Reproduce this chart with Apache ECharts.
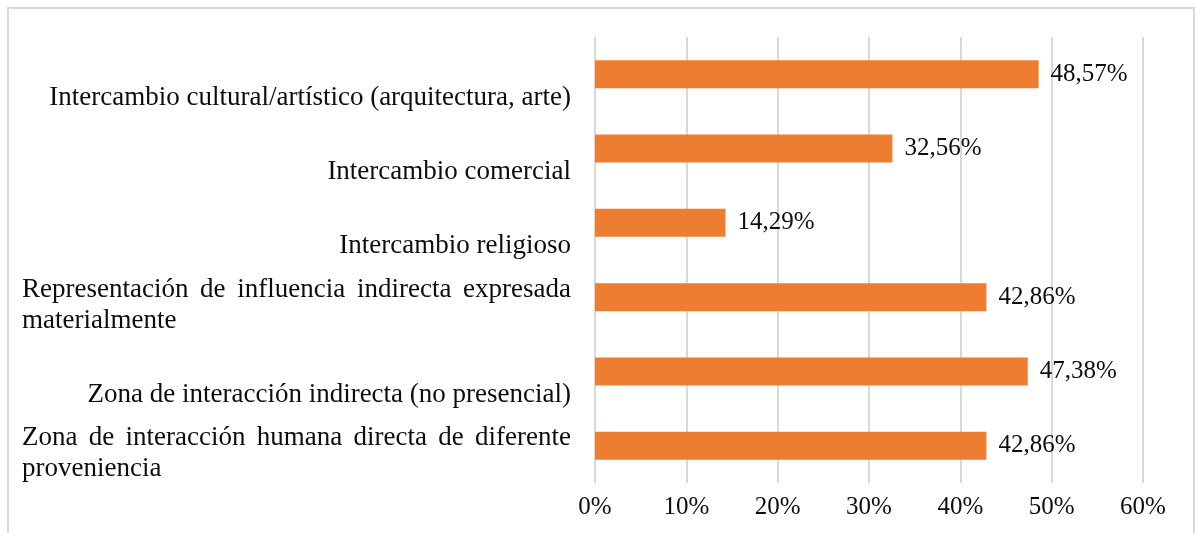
<!DOCTYPE html>
<html>
<head>
<meta charset="utf-8">
<script src="https://cdn.jsdelivr.net/npm/echarts@6/dist/echarts.min.js"></script>
<style>
  html, body { margin: 0; padding: 0; background: #fff; }
  #chart { width: 1196px; height: 533px; }
</style>
</head>
<body>
<div id="chart"></div>
<script>
// categorias (\n = salto de linea como en el original)
var categories = [
    'Intercambio cultural/artístico (arquitectura, arte)',
    'Intercambio comercial',
    'Intercambio religioso',
    'Representación de influencia indirecta expresada\nmaterialmente',
    'Zona de interacción indirecta (no presencial)',
    'Zona de interacción humana directa de diferente\nproveniencia'
];
var values = [48.57, 32.56, 14.29, 42.86, 47.38, 42.86];
var tickMin = 0, tickMax = 60, tickStep = 10;

var FONT = '"Liberation Serif", "Times New Roman", serif';
var labelSize = 27;
var blockWidth = 549; // ancho del texto justificado

// medir palabras para justificar la primera linea
var ctx = document.createElement('canvas').getContext('2d');
ctx.font = labelSize + 'px ' + FONT;

function justify(line) {
    var words = line.split(' ');
    var total = 0;
    for (var i = 0; i < words.length; i++) {
        total += ctx.measureText(words[i]).width;
    }
    var gap = (blockWidth - total) / (words.length - 1);
    var space = ctx.measureText(' ').width;
    if (gap < space) gap = space;
    return { words: words, gap: gap };
}

var rich = {
    w: { fontFamily: FONT, fontSize: labelSize, color: '#0d0d0d', align: 'left', lineHeight: 31 },
    l: { fontFamily: FONT, fontSize: labelSize, color: '#0d0d0d', align: 'left', lineHeight: 31 },
    r: { fontFamily: FONT, fontSize: labelSize, color: '#0d0d0d', lineHeight: 31 }
};
var gapIdx = 0;
var labelMap = {};
for (var c = 0; c < categories.length; c++) {
    var parts = categories[c].split('\n');
    if (parts.length === 1) {
        labelMap[categories[c]] = '{r|}\n{r|' + parts[0] + '}';
    } else {
        var j = justify(parts[0]);
        var key = 'g' + (gapIdx++);
        rich[key] = { width: j.gap, fontSize: labelSize, lineHeight: 31, align: 'left' };
        var s = '';
        for (var k = 0; k < j.words.length; k++) {
            if (k > 0) s += '{' + key + '| }';
            s += '{w|' + j.words[k] + '}';
        }
        labelMap[categories[c]] = s + '\n{l|' + parts[1] + '}';
    }
}

var myChart = echarts.init(document.getElementById('chart'));
var option = {
    animation: false,
    backgroundColor: '#fff',
    graphic: [{
        type: 'rect',
        shape: { x: 8, y: 8, width: 1186, height: 540 },
        style: { fill: 'none', stroke: '#d9d9d9', lineWidth: 2 },
        silent: true
    }],
    grid: { left: 595, right: 53, top: 37, bottom: 50, containLabel: false },
    xAxis: {
        type: 'value',
        min: tickMin,
        max: tickMax,
        interval: tickStep,
        axisLine: { show: false },
        axisTick: { show: false },
        splitLine: { show: true, lineStyle: { color: '#d9d9d9', width: 2 } },
        axisLabel: {
            formatter: '{value}%',
            fontFamily: FONT,
            fontSize: 25,
            color: '#0d0d0d',
            margin: 12
        }
    },
    yAxis: {
        type: 'category',
        inverse: true,
        data: categories,
        axisLine: { show: false },
        axisTick: { show: false },
        splitLine: { show: false },
        axisLabel: {
            interval: 0,
            margin: 24,
            padding: [16, 0, 0, 0],
            lineHeight: 31,
            fontFamily: FONT,
            fontSize: labelSize,
            color: '#0d0d0d',
            formatter: function (v) { return labelMap[v]; },
            rich: rich
        }
    },
    series: [{
        type: 'bar',
        data: values,
        barWidth: 28,
        itemStyle: { color: '#ED7D31' },
        label: {
            show: true,
            position: 'right',
            distance: 12,
            fontFamily: FONT,
            fontSize: 25,
            color: '#0d0d0d',
            formatter: function (p) { return p.value.toFixed(2).replace('.', ',') + '%'; }
        }
    }]
};
myChart.setOption(option);
</script>
</body>
</html>
